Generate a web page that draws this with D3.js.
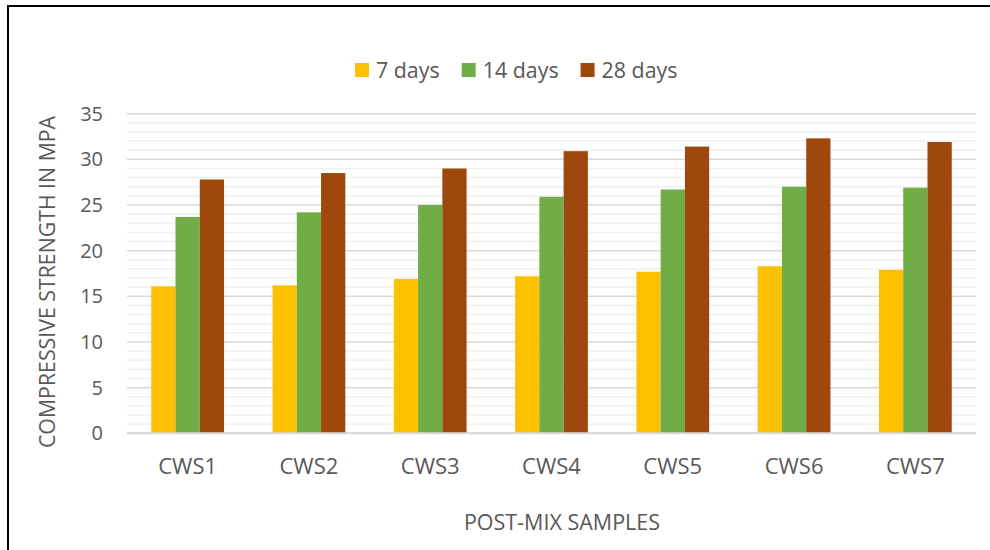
<!DOCTYPE html>
<html>
<head>
<meta charset="utf-8">
<script src="https://cdn.jsdelivr.net/npm/d3@7"></script>
<style>
  body { margin: 0; background: #fff; }
  text { font-family: "Open Sans", sans-serif; fill: #595959; }
</style>
</head>
<body>
<div id="chart"></div>
<script>
// chart data
var categories = ["CWS1", "CWS2", "CWS3", "CWS4", "CWS5", "CWS6", "CWS7"];
var seriesNames = ["7 days", "14 days", "28 days"];
var days7 = [16.1, 16.2, 16.9, 17.2, 17.7, 18.3, 17.9];
var days14 = [23.7, 24.2, 25.0, 25.9, 26.7, 27.0, 26.9];
var days28 = [27.8, 28.5, 29.0, 30.9, 31.4, 32.3, 31.9];
var yTicks = [0, 5, 10, 15, 20, 25, 30, 35];
var colors = ["#FFC000", "#70AD47", "#9E480E"];

var seriesValues = [days7, days14, days28];
var data = categories.map(function (c, i) {
    return {
        cat: c,
        vals: seriesNames.map(function (s, j) { return { name: s, value: seriesValues[j][i], color: colors[j] }; })
    };
});

var width = 990, height = 550;
var plot = { left: 127, right: 976, top: 113.7, bottom: 433.3 };

var svg = d3.select("#chart").append("svg")
    .attr("width", width)
    .attr("height", height);

svg.append("rect")
    .attr("width", width)
    .attr("height", height)
    .attr("fill", "#fff");

// outer frame, runs past the right and bottom edges
svg.append("rect")
    .attr("x", 8)
    .attr("y", 6)
    .attr("width", 1000)
    .attr("height", 600)
    .attr("fill", "none")
    .attr("stroke", "#000")
    .attr("stroke-width", 2);

var yScale = d3.scaleLinear().domain([0, 35]).range([plot.bottom, plot.top]);
var xScale = d3.scaleBand().domain(categories).range([plot.left, plot.right]).padding(0);
var step = xScale.bandwidth();
var xInner = d3.scaleBand().domain(seriesNames).range([step * 0.2, step * 0.8]).padding(0);

// minor gridlines every 1
var minor = d3.range(1, 35).filter(function (d) { return d % 5 !== 0; });
svg.append("g").selectAll("line")
    .data(minor)
    .enter().append("line")
    .attr("x1", plot.left).attr("x2", plot.right)
    .attr("y1", function (d) { return yScale(d); })
    .attr("y2", function (d) { return yScale(d); })
    .attr("stroke", "#f0f0f0")
    .attr("stroke-width", 1.5);

// major gridlines
svg.append("g").selectAll("line")
    .data(yTicks)
    .enter().append("line")
    .attr("x1", plot.left).attr("x2", plot.right)
    .attr("y1", function (d) { return yScale(d); })
    .attr("y2", function (d) { return yScale(d); })
    .attr("stroke", "#d9d9d9")
    .attr("stroke-width", 1.5);

// bars
var groups = svg.append("g").selectAll(".grp")
    .data(data)
    .enter().append("g")
    .attr("class", "grp")
    .attr("transform", function (d) { return "translate(" + xScale(d.cat) + ",0)"; });

groups.selectAll("rect")
    .data(function (d) { return d.vals; })
    .enter().append("rect")
    .attr("x", function (d) { return xInner(d.name); })
    .attr("width", xInner.bandwidth())
    .attr("y", function (d) { return yScale(d.value); })
    .attr("height", function (d) { return yScale(0) - yScale(d.value); })
    .attr("fill", function (d) { return d.color; });

// axis line at zero
svg.append("line")
    .attr("x1", plot.left).attr("x2", plot.right)
    .attr("y1", yScale(0)).attr("y2", yScale(0))
    .attr("stroke", "#d9d9d9")
    .attr("stroke-width", 2);

// y tick labels
svg.append("g").selectAll("text")
    .data(yTicks)
    .enter().append("text")
    .attr("x", 103)
    .attr("y", function (d) { return yScale(d); })
    .attr("dy", "0.35em")
    .attr("text-anchor", "end")
    .style("font-size", "20px")
    .text(function (d) { return d; });

// x category labels
svg.append("g").selectAll("text")
    .data(categories)
    .enter().append("text")
    .attr("x", function (d) { return xScale(d) + step / 2; })
    .attr("y", 466)
    .attr("dy", "0.35em")
    .attr("text-anchor", "middle")
    .style("font-size", "22px")
    .text(function (d) { return d; });

// axis titles
svg.append("text")
    .attr("x", 562)
    .attr("y", 522)
    .attr("dy", "0.35em")
    .attr("text-anchor", "middle")
    .style("font-size", "21.5px")
    .text("POST-MIX SAMPLES");

svg.append("text")
    .attr("transform", "translate(48,282) rotate(-90)")
    .attr("dy", "0.35em")
    .attr("text-anchor", "middle")
    .style("font-size", "21.3px")
    .text("COMPRESSIVE STRENGTH IN MPA");

// legend
var legend = svg.append("g").attr("transform", "translate(355,70)");
var lx = 0;
seriesNames.forEach(function (s, i) {
    var item = legend.append("g").attr("transform", "translate(" + lx + ",0)");
    item.append("rect")
        .attr("x", 0).attr("y", -7)
        .attr("width", 14).attr("height", 14)
        .attr("fill", colors[i]);
    var t = item.append("text")
        .attr("x", 21)
        .attr("dy", "0.35em")
        .style("font-size", "21.4px")
        .text(s);
    lx += 21 + t.node().getComputedTextLength() + 22;
});
</script>
</body>
</html>
